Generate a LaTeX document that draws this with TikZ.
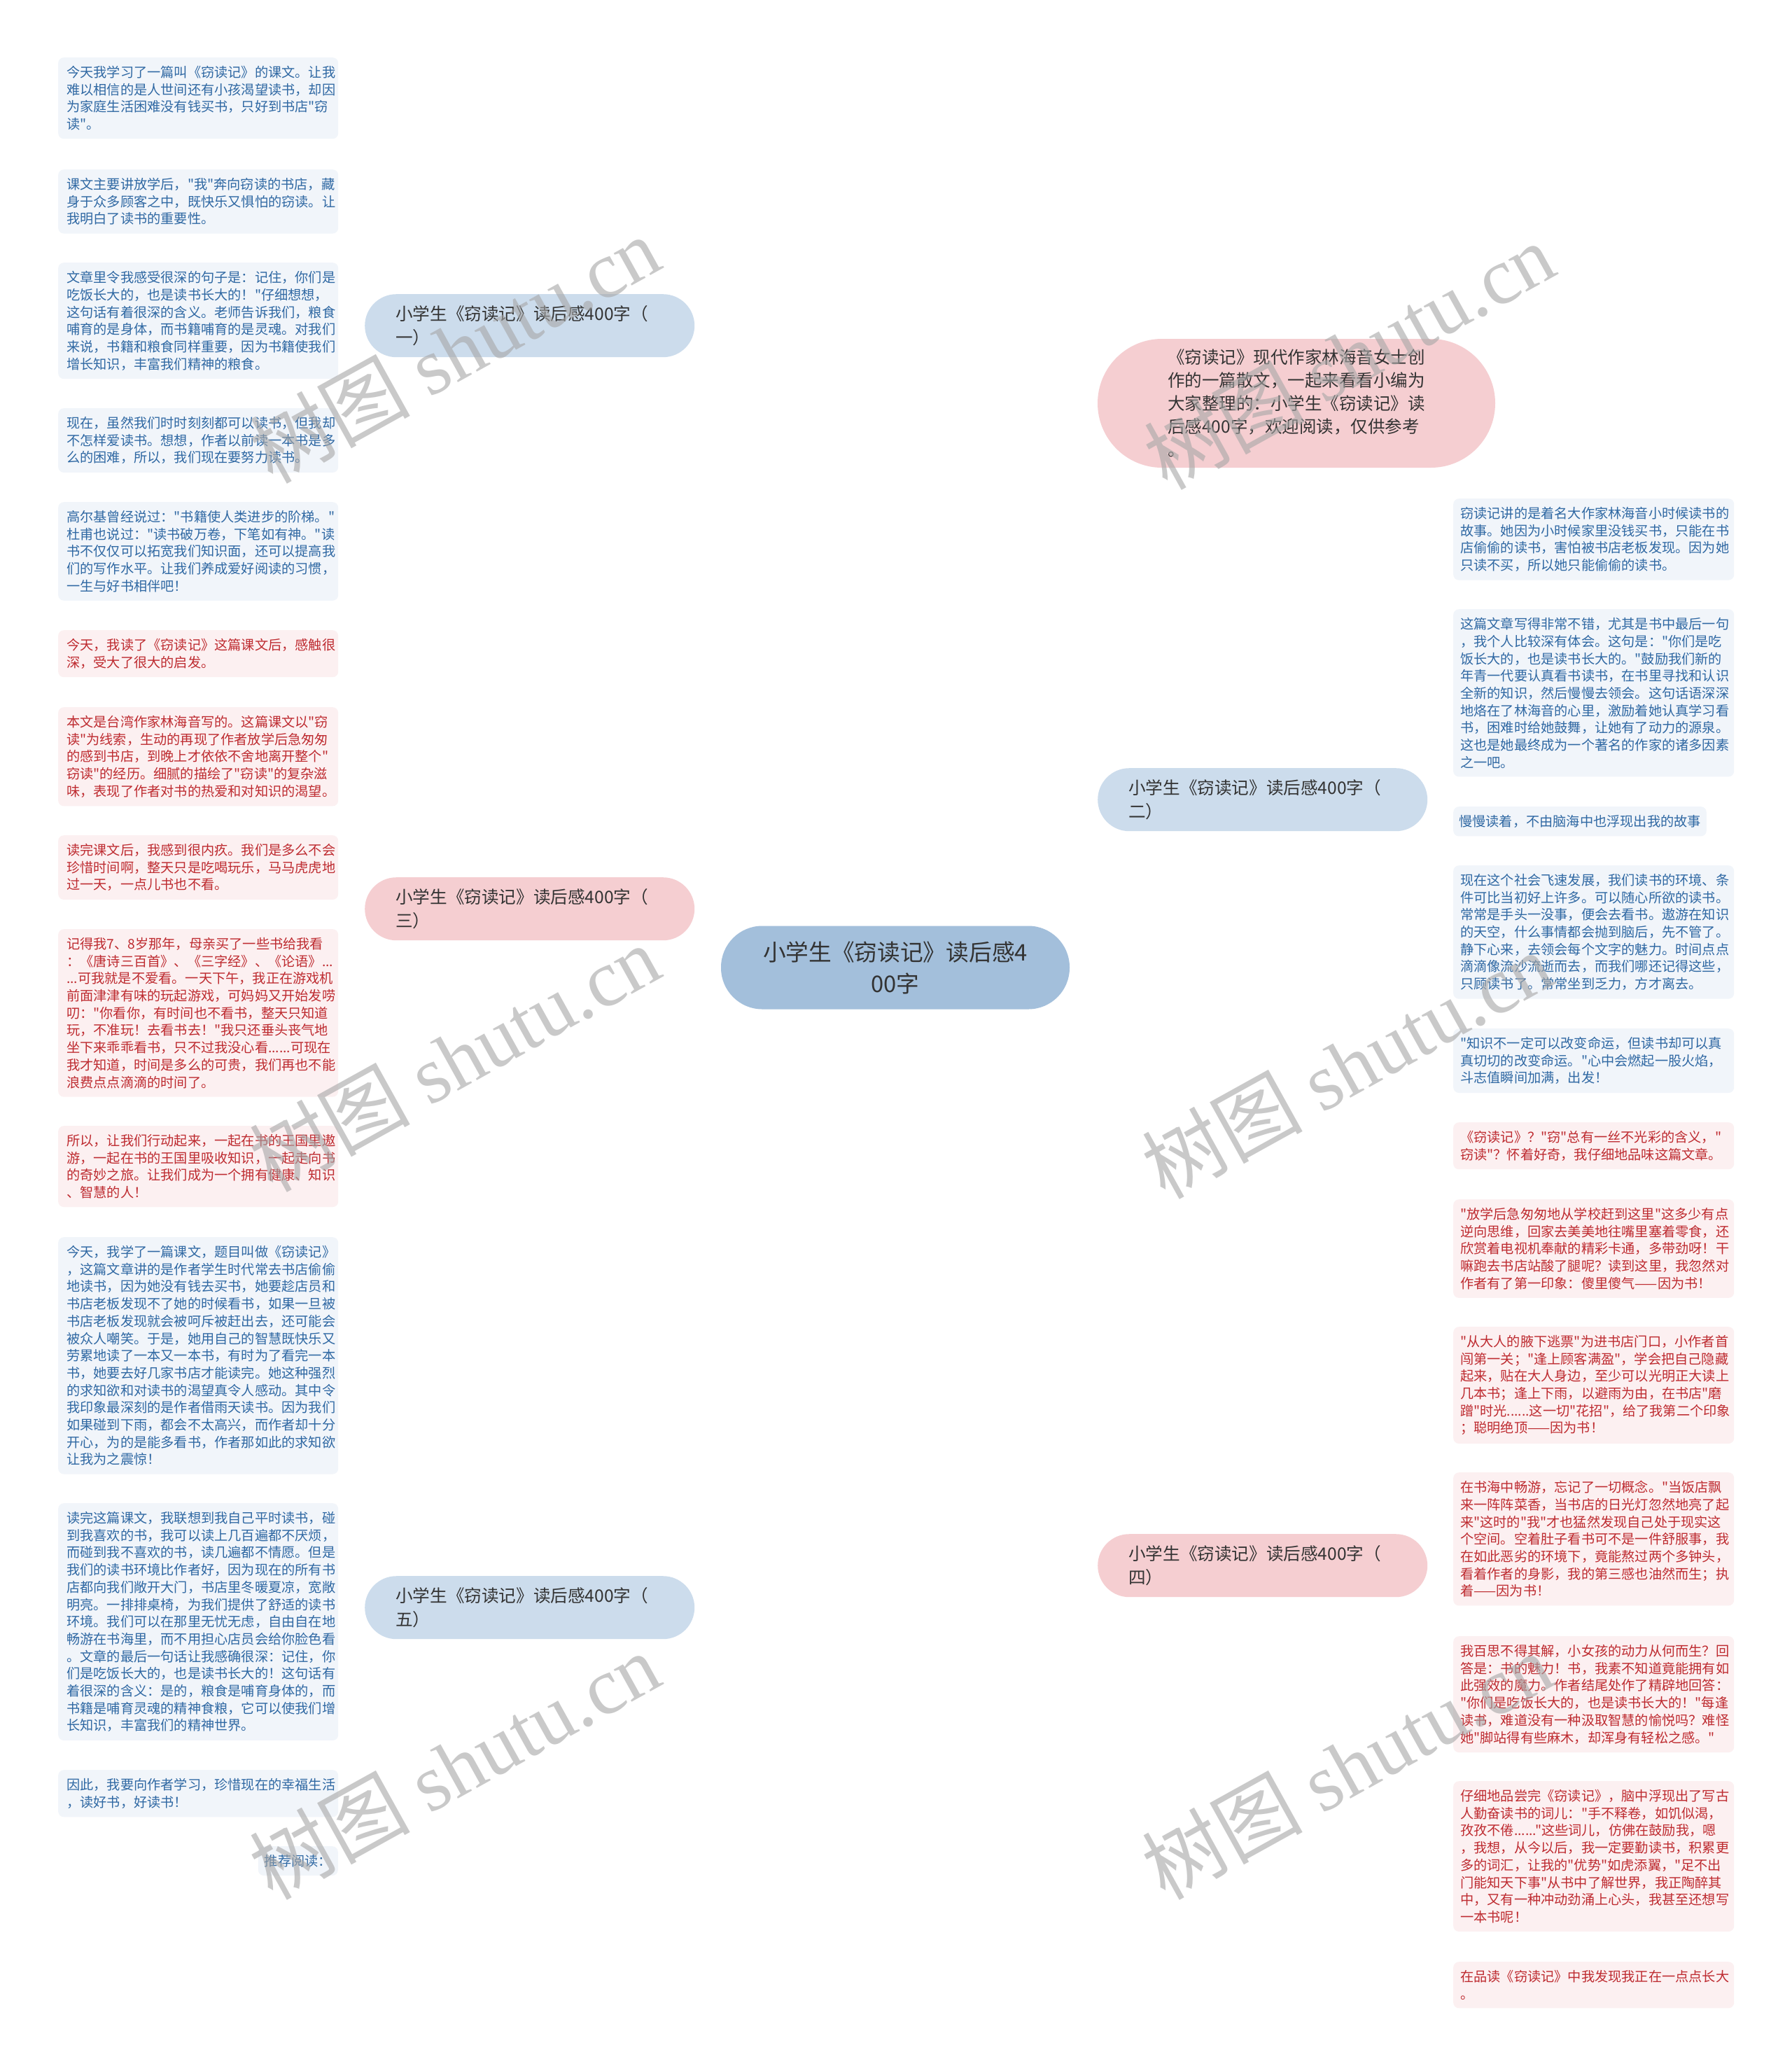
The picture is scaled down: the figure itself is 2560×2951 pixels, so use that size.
\documentclass[tikz,border=0pt]{standalone}
\usepackage{fontspec}
\newfontfamily\cjkfont{Noto Sans CJK SC}
\newfontfamily\wmlatin{Liberation Serif}
\definecolor{leafBfill}{HTML}{F1F5FA}
\definecolor{leafBtext}{HTML}{2F68A3}
\definecolor{leafRfill}{HTML}{FCF0F1}
\definecolor{leafRtext}{HTML}{BE2B30}
\definecolor{branchBfill}{HTML}{CCDCEC}
\definecolor{branchRfill}{HTML}{F5CED1}
\definecolor{centralfill}{HTML}{A3BFDB}
\definecolor{darktext}{HTML}{333333}
\definecolor{lineB}{HTML}{B5CDE4}
\definecolor{lineR}{HTML}{F1B9BD}
\pgfdeclarelayer{background}
\pgfdeclarelayer{foreground}
\pgfsetlayers{background,main,foreground}
\begin{document}
\begin{tikzpicture}[x=1pt,y=-1pt,
  leaf/.style={anchor=north west, rounded corners=8pt, inner xsep=12pt, inner ysep=12pt,
    text width=376pt, align=left, font=\cjkfont\fontsize{19.2}{24.7}\selectfont},
  rleaf/.style={leaf, inner xsep=10pt, text width=381pt},
  leafB/.style={fill=leafBfill, text=leafBtext},
  leafR/.style={fill=leafRfill, text=leafRtext},
  shortleaf/.style={rounded corners=8pt, inner xsep=9pt, inner ysep=12pt, font=\cjkfont\fontsize{19.2}{24.7}\selectfont},
  branch/.style={anchor=north west, minimum height=90pt, text width=383pt, inner xsep=44pt, inner ysep=0pt,
    align=left, rounded corners=45pt, text=darktext, font=\cjkfont\fontsize{24.6}{34}\selectfont},
  branchB/.style={branch, fill=branchBfill},
  branchR/.style={branch, fill=branchRfill},
  central/.style={minimum width=498pt, minimum height=119pt, inner sep=0pt, align=center,
    rounded corners=59pt, fill=centralfill, text=darktext, font=\cjkfont\fontsize{32.7}{45}\selectfont},
  intro/.style={minimum width=568pt, minimum height=184pt, inner sep=0pt, align=left,
    rounded corners=92pt, fill=branchRfill, text=darktext, font=\cjkfont\fontsize{24.5}{33}\selectfont},
  conB/.style={draw=lineB, line width=2.2pt},
  conR/.style={draw=lineR, line width=2.2pt},
  watermark/.style={rotate=29, text=black!35, opacity=0.6, font=\cjkfont\fontsize{115}{120}\selectfont}
]
\useasboundingbox (0,0) rectangle (2560,2951);
\fill[white] (0,0) rectangle (2560,2951);

% central and branches
\node[central] (C) at (1279,1382) {小学生《窃读记》读后感4\\00字};
\node[intro] (I) at (1852,576) {《窃读记》现代作家林海音女士创\\作的一篇散文，一起来看看小编为\\大家整理的：小学生《窃读记》读\\后感400字，欢迎阅读，仅供参考\\。};
\node[branchB] (B1) at (521,420) {小学生《窃读记》读后感400字（\\一）};
\node[branchR] (B3) at (521,1253) {小学生《窃读记》读后感400字（\\三）};
\node[branchB] (B5) at (521,2251) {小学生《窃读记》读后感400字（\\五）};
\node[branchB] (B2) at (1568,1097) {小学生《窃读记》读后感400字（\\二）};
\node[branchR] (B4) at (1568,2191) {小学生《窃读记》读后感400字（\\四）};

% left leaves, branch 1
\node[leaf,leafB] (L1a) at (83,82) {今天我学习了一篇叫《窃读记》的课文。让我\\难以相信的是人世间还有小孩渴望读书，却因\\为家庭生活困难没有钱买书，只好到书店"窃\\读"。};
\node[leaf,leafB] (L1b) at (83,242) {课文主要讲放学后，"我"奔向窃读的书店，藏\\身于众多顾客之中，既快乐又惧怕的窃读。让\\我明白了读书的重要性。};
\node[leaf,leafB] (L1c) at (83,375) {文章里令我感受很深的句子是：记住，你们是\\吃饭长大的，也是读书长大的！"仔细想想，\\这句话有着很深的含义。老师告诉我们，粮食\\哺育的是身体，而书籍哺育的是灵魂。对我们\\来说，书籍和粮食同样重要，因为书籍使我们\\增长知识，丰富我们精神的粮食。};
\node[leaf,leafB] (L1d) at (83,583) {现在，虽然我们时时刻刻都可以读书，但我却\\不怎样爱读书。想想，作者以前读一本书是多\\么的困难，所以，我们现在要努力读书。};
\node[leaf,leafB] (L1e) at (83,717) {高尔基曾经说过："书籍使人类进步的阶梯。"\\杜甫也说过："读书破万卷，下笔如有神。"读\\书不仅仅可以拓宽我们知识面，还可以提高我\\们的写作水平。让我们养成爱好阅读的习惯，\\一生与好书相伴吧！};

% left leaves, branch 3
\node[leaf,leafR] (L3a) at (83,900) {今天，我读了《窃读记》这篇课文后，感触很\\深，受大了很大的启发。};
\node[leaf,leafR] (L3b) at (83,1010) {本文是台湾作家林海音写的。这篇课文以"窃\\读"为线索，生动的再现了作者放学后急匆匆\\的感到书店，到晚上才依依不舍地离开整个"\\窃读"的经历。细腻的描绘了"窃读"的复杂滋\\味，表现了作者对书的热爱和对知识的渴望。};
\node[leaf,leafR] (L3c) at (83,1193) {读完课文后，我感到很内疚。我们是多么不会\\珍惜时间啊，整天只是吃喝玩乐，马马虎虎地\\过一天，一点儿书也不看。};
\node[leaf,leafR] (L3d) at (83,1327) {记得我7、8岁那年，母亲买了一些书给我看\\：《唐诗三百首》、《三字经》、《论语》...\\...可我就是不爱看。一天下午，我正在游戏机\\前面津津有味的玩起游戏，可妈妈又开始发唠\\叨："你看你，有时间也不看书，整天只知道\\玩，不准玩！去看书去！"我只还垂头丧气地\\坐下来乖乖看书，只不过我没心看......可现在\\我才知道，时间是多么的可贵，我们再也不能\\浪费点点滴滴的时间了。};
\node[leaf,leafR] (L3e) at (83,1608) {所以，让我们行动起来，一起在书的王国里遨\\游，一起在书的王国里吸收知识，一起走向书\\的奇妙之旅。让我们成为一个拥有健康、知识\\、智慧的人！};

% left leaves, branch 5
\node[leaf,leafB] (L5a) at (83,1767) {今天，我学了一篇课文，题目叫做《窃读记》\\，这篇文章讲的是作者学生时代常去书店偷偷\\地读书，因为她没有钱去买书，她要趁店员和\\书店老板发现不了她的时候看书，如果一旦被\\书店老板发现就会被呵斥被赶出去，还可能会\\被众人嘲笑。于是，她用自己的智慧既快乐又\\劳累地读了一本又一本书，有时为了看完一本\\书，她要去好几家书店才能读完。她这种强烈\\的求知欲和对读书的渴望真令人感动。其中令\\我印象最深刻的是作者借雨天读书。因为我们\\如果碰到下雨，都会不太高兴，而作者却十分\\开心，为的是能多看书，作者那如此的求知欲\\让我为之震惊！};
\node[leaf,leafB] (L5b) at (83,2147) {读完这篇课文，我联想到我自己平时读书，碰\\到我喜欢的书，我可以读上几百遍都不厌烦，\\而碰到我不喜欢的书，读几遍都不情愿。但是\\我们的读书环境比作者好，因为现在的所有书\\店都向我们敞开大门，书店里冬暖夏凉，宽敞\\明亮。一排排桌椅，为我们提供了舒适的读书\\环境。我们可以在那里无忧无虑，自由自在地\\畅游在书海里，而不用担心店员会给你脸色看\\。文章的最后一句话让我感确很深：记住，你\\们是吃饭长大的，也是读书长大的！这句话有\\着很深的含义：是的，粮食是哺育身体的，而\\书籍是哺育灵魂的精神食粮，它可以使我们增\\长知识，丰富我们的精神世界。};
\node[leaf,leafB] (L5c) at (83,2528) {因此，我要向作者学习，珍惜现在的幸福生活\\，读好书，好读书！};
\node[shortleaf,leafB,anchor=north east] (L5d) at (483,2637) {推荐阅读：};

% right leaves, branch 2
\node[rleaf,leafB] (R2a) at (2076,712) {窃读记讲的是着名大作家林海音小时候读书的\\故事。她因为小时候家里没钱买书，只能在书\\店偷偷的读书，害怕被书店老板发现。因为她\\只读不买，所以她只能偷偷的读书。};
\node[rleaf,leafB] (R2b) at (2076,870) {这篇文章写得非常不错，尤其是书中最后一句\\，我个人比较深有体会。这句是："你们是吃\\饭长大的，也是读书长大的。"鼓励我们新的\\年青一代要认真看书读书，在书里寻找和认识\\全新的知识，然后慢慢去领会。这句话语深深\\地烙在了林海音的心里，激励着她认真学习看\\书，困难时给她鼓舞，让她有了动力的源泉。\\这也是她最终成为一个著名的作家的诸多因素\\之一吧。};
\node[shortleaf,leafB,anchor=north west,inner xsep=8pt] (R2c) at (2076,1152) {慢慢读着，不由脑海中也浮现出我的故事};
\node[rleaf,leafB] (R2d) at (2076,1236) {现在这个社会飞速发展，我们读书的环境、条\\件可比当初好上许多。可以随心所欲的读书。\\常常是手头一没事，便会去看书。遨游在知识\\的天空，什么事情都会抛到脑后，先不管了。\\静下心来，去领会每个文字的魅力。时间点点\\滴滴像流沙流逝而去，而我们哪还记得这些，\\只顾读书了。常常坐到乏力，方才离去。};
\node[rleaf,leafB] (R2e) at (2076,1469) {"知识不一定可以改变命运，但读书却可以真\\真切切的改变命运。"心中会燃起一股火焰，\\斗志值瞬间加满，出发！};

% right leaves, branch 4
\node[rleaf,leafR] (R4a) at (2076,1603) {《窃读记》？"窃"总有一丝不光彩的含义，"\\窃读"？怀着好奇，我仔细地品味这篇文章。};
\node[rleaf,leafR] (R4b) at (2076,1713) {"放学后急匆匆地从学校赶到这里"这多少有点\\逆向思维，回家去美美地往嘴里塞着零食，还\\欣赏着电视机奉献的精彩卡通，多带劲呀！干\\嘛跑去书店站酸了腿呢？读到这里，我忽然对\\作者有了第一印象：傻里傻气——因为书！};
\node[rleaf,leafR] (R4c) at (2076,1895) {"从大人的腋下逃票"为进书店门口，小作者首\\闯第一关；"逢上顾客满盈"，学会把自己隐藏\\起来，贴在大人身边，至少可以光明正大读上\\几本书；逢上下雨，以避雨为由，在书店"磨\\蹭"时光......这一切"花招"，给了我第二个印象\\；聪明绝顶——因为书！};
\node[rleaf,leafR] (R4d) at (2076,2103) {在书海中畅游，忘记了一切概念。"当饭店飘\\来一阵阵菜香，当书店的日光灯忽然地亮了起\\来"这时的"我"才也猛然发现自己处于现实这\\个空间。空着肚子看书可不是一件舒服事，我\\在如此恶劣的环境下，竟能熬过两个多钟头，\\看着作者的身影，我的第三感也油然而生；执\\着——因为书！};
\node[rleaf,leafR] (R4e) at (2076,2337) {我百思不得其解，小女孩的动力从何而生？回\\答是：书的魅力！书，我素不知道竟能拥有如\\此强效的魔力。作者结尾处作了精辟地回答：\\"你们是吃饭长大的，也是读书长大的！"每逢\\读书，难道没有一种汲取智慧的愉悦吗？难怪\\她"脚站得有些麻木，却浑身有轻松之感。"};
\node[rleaf,leafR] (R4f) at (2076,2544) {仔细地品尝完《窃读记》，脑中浮现出了写古\\人勤奋读书的词儿："手不释卷，如饥似渴，\\孜孜不倦......"这些词儿，仿佛在鼓励我，嗯\\，我想，从今以后，我一定要勤读书，积累更\\多的词汇，让我的"优势"如虎添翼，"足不出\\门能知天下事"从书中了解世界，我正陶醉其\\中，又有一种冲动劲涌上心头，我甚至还想写\\一本书呢！};
\node[rleaf,leafR] (R4g) at (2076,2802) {在品读《窃读记》中我发现我正在一点点长大\\。};

\begin{pgfonlayer}{background}
% central to branches
\draw[conB] (C.north) .. controls (1279,969) and (1346,465) .. (B1.east);
\draw[conR] (C.north) .. controls (1279,1009) and (1254,576) .. (I.west);
\draw[conB] (C.north) .. controls (1279,1190) and (1435,1142) .. (B2.west);
\draw[conR] (C.north) .. controls (1279,1292) and (1100,1298) .. (B3.east);
\draw[conR] (C.south) .. controls (1279,1773) and (1237,2236) .. (B4.west);
\draw[conB] (C.south) .. controls (1279,1795) and (1345,2296) .. (B5.east);
% branch to leaves
\foreach \l in {L1a,L1b,L1c,L1d,L1e}
  \draw[conB] (B1.west) .. controls +(-21,0) and +(17,0) .. (\l.east);
\foreach \l in {L3a,L3b,L3c,L3d,L3e}
  \draw[conR] (B3.west) .. controls +(-21,0) and +(17,0) .. (\l.east);
\foreach \l in {L5a,L5b,L5c,L5d}
  \draw[conB] (B5.west) .. controls +(-21,0) and +(17,0) .. (\l.east);
\foreach \l in {R2a,R2b,R2c,R2d,R2e}
  \draw[conB] (B2.east) .. controls +(21,0) and +(-19,0) .. (\l.west);
\foreach \l in {R4a,R4b,R4c,R4d,R4e,R4f,R4g}
  \draw[conR] (B4.east) .. controls +(21,0) and +(-19,0) .. (\l.west);
\end{pgfonlayer}

\begin{pgfonlayer}{foreground}
\node[watermark] (W1) at (649,499) {树图 {\wmlatin shutu.cn}};
\node[watermark] (W2) at (1927,508) {树图 {\wmlatin shutu.cn}};
\node[watermark] (W3) at (649,1511) {树图 {\wmlatin shutu.cn}};
\node[watermark] (W4) at (1924,1521) {树图 {\wmlatin shutu.cn}};
\node[watermark] (W5) at (649,2522) {树图 {\wmlatin shutu.cn}};
\node[watermark] (W6) at (1924,2522) {树图 {\wmlatin shutu.cn}};
\end{pgfonlayer}
\end{tikzpicture}
\end{document}
